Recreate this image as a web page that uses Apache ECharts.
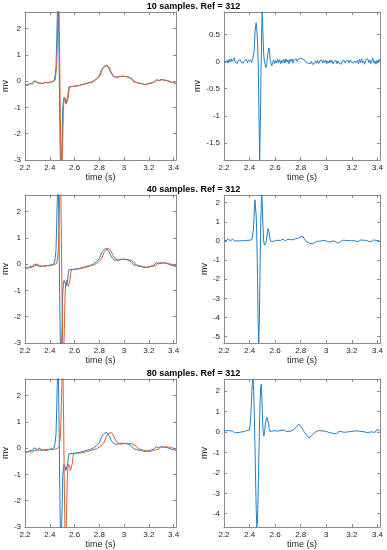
<!DOCTYPE html>
<html>
<head>
<meta charset="utf-8">
<script src="https://cdn.jsdelivr.net/npm/echarts@6/dist/echarts.min.js"></script>
<style>
html,body{margin:0;padding:0;background:#fff;}
#chart{width:387px;height:550px;}
</style>
</head>
<body>
<div id="chart"></div>
<script>
// ---------------- DATA ----------------
const titles = ["10 samples. Ref = 312", "40 samples. Ref = 312", "80 samples. Ref = 312"];
const xTicks = [2.2, 2.4, 2.6, 2.8, 3, 3.2, 3.4];
const xRange = [2.2, 3.42];
const leftYTicks = [-3, -2, -1, 0, 1, 2];
const leftYRange = [-3, 2.63];
const rightYTicks10 = [-1.5, -1, -0.5, 0, 0.5];
const rightYRange10 = [-1.81, 0.91];
const rightYTicks40 = [-5, -4, -3, -2, -1, 0, 1, 2];
const rightYRange40 = [-5.33, 2.4];
const rightYTicks80 = [-4, -3, -2, -1, 0, 1, 2];
const rightYRange80 = [-4.65, 2.6];

// reference ECG (blue, left panels) [time s, mV]
const ecgRef = [[2.200,-0.14],[2.210,-0.16],[2.220,-0.15],[2.230,-0.12],[2.240,-0.09],[2.250,-0.06],[2.258,-0.10],[2.266,-0.04],[2.275,0.01],[2.283,0.03],[2.290,-0.02],[2.300,-0.06],[2.310,-0.05],[2.320,-0.08],[2.330,-0.07],[2.340,-0.09],[2.350,-0.06],[2.360,-0.05],[2.370,-0.08],[2.380,-0.06],[2.390,-0.07],[2.400,-0.04],[2.410,-0.05],[2.420,-0.02],[2.430,0.00],[2.438,0.03],[2.445,0.10],[2.450,0.50],[2.455,1.30],[2.460,2.30],[2.465,3.00],[2.470,2.80],[2.475,1.00],[2.480,-1.20],[2.485,-2.90],[2.490,-3.60],[2.495,-3.20],[2.500,-2.20],[2.505,-1.10],[2.510,-0.75],[2.515,-0.62],[2.520,-0.63],[2.525,-0.72],[2.530,-0.85],[2.535,-0.90],[2.540,-0.86],[2.545,-0.60],[2.550,-0.35],[2.555,-0.22],[2.560,-0.18],[2.565,-0.20],[2.570,-0.17],[2.580,-0.20],[2.590,-0.16],[2.600,-0.19],[2.610,-0.15],[2.620,-0.18],[2.630,-0.14],[2.640,-0.16],[2.650,-0.12],[2.660,-0.13],[2.670,-0.09],[2.680,-0.11],[2.690,-0.06],[2.700,-0.08],[2.710,-0.04],[2.720,-0.05],[2.730,-0.02],[2.740,-0.03],[2.750,0.01],[2.760,0.03],[2.770,0.06],[2.780,0.10],[2.790,0.13],[2.800,0.20],[2.810,0.32],[2.820,0.45],[2.830,0.52],[2.840,0.56],[2.850,0.62],[2.860,0.60],[2.870,0.55],[2.880,0.46],[2.890,0.35],[2.900,0.27],[2.910,0.20],[2.920,0.16],[2.930,0.18],[2.940,0.15],[2.950,0.20],[2.960,0.17],[2.970,0.21],[2.980,0.19],[2.990,0.22],[3.000,0.18],[3.010,0.20],[3.020,0.17],[3.030,0.18],[3.040,0.14],[3.050,0.12],[3.060,0.08],[3.070,0.03],[3.080,-0.03],[3.090,-0.08],[3.100,-0.05],[3.110,-0.10],[3.120,-0.08],[3.130,-0.12],[3.140,-0.09],[3.150,-0.15],[3.160,-0.13],[3.170,-0.10],[3.180,-0.12],[3.190,-0.07],[3.200,-0.09],[3.210,-0.05],[3.220,-0.07],[3.230,-0.02],[3.240,-0.04],[3.250,0.00],[3.260,0.05],[3.270,-0.01],[3.280,0.02],[3.290,0.00],[3.300,0.06],[3.310,0.03],[3.320,0.04],[3.330,0.01],[3.340,0.03],[3.350,-0.02],[3.360,0.00],[3.370,-0.05],[3.380,-0.04],[3.390,-0.08],[3.400,-0.06],[3.410,-0.10],[3.420,-0.09]];

// delayed signals (orange)
const ecgDelay10 = [[2.200,-0.14],[2.205,-0.14],[2.215,-0.16],[2.225,-0.15],[2.235,-0.12],[2.245,-0.09],[2.255,-0.06],[2.263,-0.10],[2.271,-0.04],[2.280,0.01],[2.288,0.03],[2.295,-0.02],[2.305,-0.06],[2.315,-0.05],[2.325,-0.08],[2.335,-0.07],[2.345,-0.09],[2.355,-0.06],[2.365,-0.05],[2.375,-0.08],[2.385,-0.06],[2.395,-0.07],[2.405,-0.04],[2.415,-0.05],[2.425,-0.02],[2.435,0.00],[2.443,0.03],[2.450,0.10],[2.455,0.50],[2.460,1.30],[2.465,2.30],[2.470,3.00],[2.475,2.80],[2.480,1.00],[2.485,-1.20],[2.490,-2.90],[2.495,-3.60],[2.500,-3.20],[2.505,-2.20],[2.510,-1.10],[2.515,-0.75],[2.520,-0.62],[2.525,-0.63],[2.530,-0.72],[2.535,-0.85],[2.540,-0.90],[2.545,-0.86],[2.550,-0.60],[2.555,-0.35],[2.560,-0.22],[2.565,-0.18],[2.570,-0.20],[2.575,-0.17],[2.585,-0.20],[2.595,-0.16],[2.605,-0.19],[2.615,-0.15],[2.625,-0.18],[2.635,-0.14],[2.645,-0.16],[2.655,-0.12],[2.665,-0.13],[2.675,-0.09],[2.685,-0.11],[2.695,-0.06],[2.705,-0.08],[2.715,-0.04],[2.725,-0.05],[2.735,-0.02],[2.745,-0.03],[2.755,0.01],[2.765,0.03],[2.775,0.06],[2.785,0.10],[2.795,0.13],[2.805,0.20],[2.815,0.32],[2.825,0.45],[2.835,0.52],[2.845,0.56],[2.855,0.62],[2.865,0.60],[2.875,0.55],[2.885,0.46],[2.895,0.35],[2.905,0.27],[2.915,0.20],[2.925,0.16],[2.935,0.18],[2.945,0.15],[2.955,0.20],[2.965,0.17],[2.975,0.21],[2.985,0.19],[2.995,0.22],[3.005,0.18],[3.015,0.20],[3.025,0.17],[3.035,0.18],[3.045,0.14],[3.055,0.12],[3.065,0.08],[3.075,0.03],[3.085,-0.03],[3.095,-0.08],[3.105,-0.05],[3.115,-0.10],[3.125,-0.08],[3.135,-0.12],[3.145,-0.09],[3.155,-0.15],[3.165,-0.13],[3.175,-0.10],[3.185,-0.12],[3.195,-0.07],[3.205,-0.09],[3.215,-0.05],[3.225,-0.07],[3.235,-0.02],[3.245,-0.04],[3.255,0.00],[3.265,0.05],[3.275,-0.01],[3.285,0.02],[3.295,0.00],[3.305,0.06],[3.315,0.03],[3.325,0.04],[3.335,0.01],[3.345,0.03],[3.355,-0.02],[3.365,0.00],[3.375,-0.05],[3.385,-0.04],[3.395,-0.08],[3.405,-0.06],[3.415,-0.10],[3.420,-0.09]];

const ecgDelay40 = [[2.200,-0.15],[2.210,-0.14],[2.219,-0.14],[2.229,-0.16],[2.239,-0.15],[2.249,-0.12],[2.259,-0.09],[2.269,-0.06],[2.277,-0.10],[2.285,-0.04],[2.294,0.01],[2.302,0.03],[2.309,-0.02],[2.319,-0.06],[2.329,-0.05],[2.339,-0.08],[2.349,-0.07],[2.359,-0.09],[2.369,-0.06],[2.379,-0.05],[2.389,-0.08],[2.399,-0.06],[2.409,-0.07],[2.419,-0.04],[2.429,-0.05],[2.439,-0.02],[2.449,0.00],[2.457,0.03],[2.464,0.10],[2.469,0.50],[2.474,1.30],[2.479,2.30],[2.484,3.00],[2.489,2.80],[2.494,1.00],[2.499,-1.20],[2.504,-2.90],[2.509,-3.60],[2.514,-3.20],[2.519,-2.20],[2.524,-1.10],[2.529,-0.75],[2.534,-0.62],[2.539,-0.63],[2.544,-0.72],[2.549,-0.85],[2.554,-0.90],[2.559,-0.86],[2.564,-0.60],[2.569,-0.35],[2.574,-0.22],[2.579,-0.18],[2.584,-0.20],[2.589,-0.17],[2.599,-0.20],[2.609,-0.16],[2.619,-0.19],[2.629,-0.15],[2.639,-0.18],[2.649,-0.14],[2.659,-0.16],[2.669,-0.12],[2.679,-0.13],[2.689,-0.09],[2.699,-0.11],[2.709,-0.06],[2.719,-0.08],[2.729,-0.04],[2.739,-0.05],[2.749,-0.02],[2.759,-0.03],[2.769,0.01],[2.779,0.03],[2.789,0.06],[2.799,0.10],[2.809,0.13],[2.819,0.20],[2.829,0.32],[2.839,0.45],[2.849,0.52],[2.859,0.56],[2.869,0.62],[2.879,0.60],[2.889,0.55],[2.899,0.46],[2.909,0.35],[2.919,0.27],[2.929,0.20],[2.939,0.16],[2.949,0.18],[2.959,0.15],[2.969,0.20],[2.979,0.17],[2.989,0.21],[2.999,0.19],[3.009,0.22],[3.019,0.18],[3.029,0.20],[3.039,0.17],[3.049,0.18],[3.059,0.14],[3.069,0.12],[3.079,0.08],[3.089,0.03],[3.099,-0.03],[3.109,-0.08],[3.119,-0.05],[3.129,-0.10],[3.139,-0.08],[3.149,-0.12],[3.159,-0.09],[3.169,-0.15],[3.179,-0.13],[3.189,-0.10],[3.199,-0.12],[3.209,-0.07],[3.219,-0.09],[3.229,-0.05],[3.239,-0.07],[3.249,-0.02],[3.259,-0.04],[3.269,0.00],[3.279,0.05],[3.289,-0.01],[3.299,0.02],[3.309,0.00],[3.319,0.06],[3.329,0.03],[3.339,0.04],[3.349,0.01],[3.359,0.03],[3.369,-0.02],[3.379,0.00],[3.389,-0.05],[3.399,-0.04],[3.409,-0.08],[3.420,-0.06]];

const ecgDelay80 = [[2.200,-0.15],[2.210,-0.14],[2.220,-0.15],[2.230,-0.13],[2.237,-0.14],[2.247,-0.16],[2.257,-0.15],[2.267,-0.12],[2.277,-0.09],[2.287,-0.06],[2.295,-0.10],[2.303,-0.04],[2.312,0.01],[2.320,0.03],[2.327,-0.02],[2.337,-0.06],[2.347,-0.05],[2.357,-0.08],[2.367,-0.07],[2.377,-0.09],[2.387,-0.06],[2.397,-0.05],[2.407,-0.08],[2.417,-0.06],[2.427,-0.07],[2.437,-0.04],[2.447,-0.05],[2.457,-0.02],[2.467,0.00],[2.475,0.03],[2.482,0.10],[2.487,0.50],[2.492,1.30],[2.497,2.30],[2.502,3.00],[2.507,2.80],[2.512,1.00],[2.517,-1.20],[2.522,-2.90],[2.527,-3.60],[2.532,-3.20],[2.537,-2.20],[2.542,-1.10],[2.547,-0.75],[2.552,-0.62],[2.557,-0.63],[2.562,-0.72],[2.567,-0.85],[2.572,-0.90],[2.577,-0.86],[2.582,-0.60],[2.587,-0.35],[2.592,-0.22],[2.597,-0.18],[2.602,-0.20],[2.607,-0.17],[2.617,-0.20],[2.627,-0.16],[2.637,-0.19],[2.647,-0.15],[2.657,-0.18],[2.667,-0.14],[2.677,-0.16],[2.687,-0.12],[2.697,-0.13],[2.707,-0.09],[2.717,-0.11],[2.727,-0.06],[2.737,-0.08],[2.747,-0.04],[2.757,-0.05],[2.767,-0.02],[2.777,-0.03],[2.787,0.01],[2.797,0.03],[2.807,0.06],[2.817,0.10],[2.827,0.13],[2.837,0.20],[2.847,0.32],[2.857,0.45],[2.867,0.52],[2.877,0.56],[2.887,0.62],[2.897,0.60],[2.907,0.55],[2.917,0.46],[2.927,0.35],[2.937,0.27],[2.947,0.20],[2.957,0.16],[2.967,0.18],[2.977,0.15],[2.987,0.20],[2.997,0.17],[3.007,0.21],[3.017,0.19],[3.027,0.22],[3.037,0.18],[3.047,0.20],[3.057,0.17],[3.067,0.18],[3.077,0.14],[3.087,0.12],[3.097,0.08],[3.107,0.03],[3.117,-0.03],[3.127,-0.08],[3.137,-0.05],[3.147,-0.10],[3.157,-0.08],[3.167,-0.12],[3.177,-0.09],[3.187,-0.15],[3.197,-0.13],[3.207,-0.10],[3.217,-0.12],[3.227,-0.07],[3.237,-0.09],[3.247,-0.05],[3.257,-0.07],[3.267,-0.02],[3.277,-0.04],[3.287,0.00],[3.297,0.05],[3.307,-0.01],[3.317,0.02],[3.327,0.00],[3.337,0.06],[3.347,0.03],[3.357,0.04],[3.367,0.01],[3.377,0.03],[3.387,-0.02],[3.397,0.00],[3.407,-0.05],[3.420,-0.04]];

// difference signals (right panels)
const diff10 = [[2.200,0.00],[2.208,0.03],[2.216,-0.02],[2.224,0.02],[2.232,-0.03],[2.240,0.04],[2.248,-0.01],[2.256,0.05],[2.264,0.00],[2.272,0.02],[2.280,0.07],[2.288,-0.02],[2.296,0.01],[2.304,-0.03],[2.312,0.02],[2.320,-0.01],[2.328,0.03],[2.336,-0.02],[2.344,0.01],[2.352,-0.03],[2.360,0.02],[2.368,0.00],[2.376,0.04],[2.384,-0.02],[2.392,0.02],[2.400,-0.01],[2.408,0.03],[2.416,-0.02],[2.424,0.04],[2.430,0.02],[2.436,0.20],[2.443,0.55],[2.451,0.71],[2.457,0.58],[2.463,0.30],[2.468,-0.10],[2.473,-0.90],[2.479,-1.81],[2.485,-1.00],[2.490,-0.10],[2.495,0.60],[2.499,0.91],[2.504,0.55],[2.510,0.15],[2.516,0.00],[2.522,-0.06],[2.528,-0.11],[2.534,-0.05],[2.540,0.08],[2.546,0.20],[2.552,0.25],[2.557,0.15],[2.562,0.02],[2.568,-0.04],[2.574,-0.08],[2.580,-0.02],[2.588,0.03],[2.596,-0.04],[2.604,0.02],[2.612,-0.03],[2.620,0.04],[2.628,-0.02],[2.636,0.03],[2.644,-0.04],[2.652,0.02],[2.660,-0.02],[2.668,0.04],[2.676,-0.03],[2.684,0.05],[2.692,-0.01],[2.700,0.03],[2.708,-0.04],[2.716,0.04],[2.724,0.00],[2.732,0.05],[2.740,-0.03],[2.748,0.03],[2.756,0.01],[2.764,0.05],[2.772,0.00],[2.780,0.04],[2.788,0.02],[2.796,0.06],[2.804,0.03],[2.812,0.05],[2.820,0.08],[2.828,0.03],[2.836,0.04],[2.844,-0.02],[2.852,0.01],[2.860,-0.03],[2.868,-0.01],[2.876,-0.04],[2.884,0.00],[2.892,-0.05],[2.900,-0.02],[2.908,-0.04],[2.916,0.01],[2.924,-0.03],[2.932,0.02],[2.940,-0.04],[2.948,0.01],[2.956,-0.02],[2.964,0.03],[2.972,-0.03],[2.980,0.02],[2.988,-0.02],[2.996,0.03],[3.004,-0.04],[3.012,0.01],[3.020,-0.03],[3.028,0.03],[3.036,-0.02],[3.044,0.02],[3.052,-0.04],[3.060,0.00],[3.068,-0.03],[3.076,0.02],[3.084,-0.04],[3.092,0.01],[3.100,-0.03],[3.108,0.00],[3.116,-0.05],[3.124,0.01],[3.132,-0.02],[3.140,0.02],[3.148,-0.03],[3.156,0.01],[3.164,-0.02],[3.172,0.02],[3.180,-0.03],[3.188,0.03],[3.196,-0.01],[3.204,0.02],[3.212,-0.03],[3.220,0.01],[3.228,0.03],[3.236,-0.02],[3.244,0.02],[3.252,-0.04],[3.260,0.04],[3.268,-0.02],[3.276,0.05],[3.284,-0.03],[3.292,0.01],[3.300,-0.05],[3.308,0.03],[3.316,0.00],[3.324,0.05],[3.332,-0.02],[3.340,0.03],[3.348,-0.04],[3.356,0.02],[3.364,0.06],[3.372,-0.03],[3.380,0.01],[3.388,-0.05],[3.396,0.02],[3.404,-0.03],[3.412,0.04],[3.420,0.01]];

const diff40 = [[2.200,0.03],[2.210,0.05],[2.218,0.02],[2.226,0.08],[2.234,0.12],[2.242,0.03],[2.250,-0.01],[2.258,0.05],[2.266,0.10],[2.274,0.02],[2.282,0.00],[2.290,0.03],[2.300,0.01],[2.310,0.04],[2.320,0.00],[2.330,0.03],[2.340,0.02],[2.350,0.05],[2.360,0.01],[2.370,0.04],[2.380,0.03],[2.390,0.06],[2.400,0.04],[2.410,0.05],[2.418,0.06],[2.424,0.15],[2.430,0.60],[2.436,1.40],[2.442,2.15],[2.447,2.10],[2.452,1.30],[2.457,0.10],[2.462,-1.80],[2.467,-4.20],[2.472,-5.33],[2.477,-4.00],[2.482,-1.50],[2.487,0.70],[2.492,2.10],[2.496,2.40],[2.500,1.80],[2.505,0.70],[2.510,0.05],[2.516,-0.22],[2.522,-0.28],[2.528,-0.10],[2.534,0.15],[2.540,0.50],[2.546,0.65],[2.552,0.45],[2.558,0.15],[2.564,-0.02],[2.570,0.00],[2.578,0.05],[2.586,-0.02],[2.594,0.06],[2.602,0.02],[2.610,-0.03],[2.620,0.04],[2.630,0.08],[2.640,0.02],[2.650,0.05],[2.660,0.10],[2.670,0.04],[2.680,0.00],[2.690,0.06],[2.700,0.09],[2.710,0.03],[2.720,0.07],[2.730,0.10],[2.740,0.06],[2.750,0.08],[2.760,0.12],[2.770,0.09],[2.780,0.14],[2.790,0.18],[2.800,0.22],[2.810,0.28],[2.818,0.22],[2.826,0.12],[2.834,0.05],[2.842,0.02],[2.850,-0.06],[2.860,-0.10],[2.870,-0.12],[2.880,-0.18],[2.890,-0.16],[2.900,-0.10],[2.910,-0.08],[2.920,-0.05],[2.930,-0.02],[2.940,-0.06],[2.950,-0.01],[2.960,-0.04],[2.970,0.02],[2.980,-0.03],[2.990,0.03],[3.000,0.00],[3.010,-0.04],[3.020,0.01],[3.030,-0.05],[3.040,-0.02],[3.050,0.00],[3.060,-0.06],[3.070,-0.03],[3.080,-0.08],[3.090,-0.12],[3.100,-0.09],[3.110,-0.04],[3.120,-0.01],[3.130,0.04],[3.140,0.00],[3.150,0.03],[3.160,-0.02],[3.170,0.02],[3.180,0.05],[3.190,0.01],[3.200,0.06],[3.210,0.02],[3.220,0.05],[3.230,-0.01],[3.240,0.03],[3.250,-0.03],[3.260,0.02],[3.270,0.05],[3.280,0.00],[3.290,0.04],[3.300,-0.02],[3.310,0.03],[3.320,-0.05],[3.330,-0.02],[3.340,0.03],[3.350,-0.04],[3.360,0.02],[3.370,0.05],[3.380,-0.01],[3.390,0.03],[3.400,-0.02],[3.410,0.03],[3.420,-0.06]];

const diff80 = [[2.200,0.08],[2.210,0.10],[2.218,0.06],[2.226,0.11],[2.234,0.08],[2.242,0.10],[2.250,0.06],[2.258,0.09],[2.266,0.05],[2.274,0.02],[2.282,-0.03],[2.290,-0.06],[2.300,-0.03],[2.310,0.00],[2.320,-0.02],[2.330,0.02],[2.340,0.01],[2.350,0.04],[2.360,0.03],[2.370,0.06],[2.380,0.08],[2.390,0.09],[2.398,0.10],[2.404,0.30],[2.410,0.90],[2.416,1.70],[2.422,2.40],[2.427,2.60],[2.432,2.00],[2.437,0.90],[2.442,-0.60],[2.447,-2.30],[2.452,-3.80],[2.457,-4.65],[2.462,-4.30],[2.467,-3.00],[2.472,-1.40],[2.477,0.20],[2.482,1.40],[2.487,2.20],[2.492,2.35],[2.497,1.60],[2.502,0.50],[2.507,-0.05],[2.512,-0.20],[2.518,0.05],[2.524,0.40],[2.530,0.62],[2.536,0.72],[2.542,0.68],[2.548,0.45],[2.554,0.18],[2.560,0.02],[2.568,-0.02],[2.576,0.05],[2.584,0.02],[2.592,0.07],[2.600,0.03],[2.610,0.05],[2.620,0.01],[2.630,0.06],[2.640,0.04],[2.650,0.09],[2.660,0.05],[2.670,0.10],[2.680,0.06],[2.690,0.02],[2.700,0.08],[2.710,0.04],[2.720,0.09],[2.730,0.06],[2.740,0.12],[2.750,0.15],[2.760,0.20],[2.770,0.28],[2.780,0.38],[2.788,0.40],[2.796,0.33],[2.804,0.25],[2.812,0.18],[2.820,0.08],[2.830,-0.02],[2.840,-0.10],[2.850,-0.18],[2.858,-0.27],[2.866,-0.30],[2.874,-0.25],[2.882,-0.18],[2.890,-0.12],[2.900,-0.08],[2.910,-0.03],[2.920,0.02],[2.930,0.04],[2.940,0.08],[2.950,0.11],[2.960,0.06],[2.970,0.02],[2.980,0.05],[2.990,0.01],[3.000,0.03],[3.010,0.00],[3.020,-0.02],[3.030,0.01],[3.040,-0.04],[3.050,-0.02],[3.060,-0.08],[3.070,-0.15],[3.080,-0.08],[3.090,0.00],[3.100,0.03],[3.110,0.06],[3.120,0.02],[3.130,0.04],[3.140,-0.01],[3.150,0.03],[3.160,0.00],[3.170,0.05],[3.180,0.02],[3.190,0.06],[3.200,0.03],[3.210,0.01],[3.220,0.05],[3.230,0.02],[3.240,0.06],[3.250,0.10],[3.260,0.04],[3.270,-0.02],[3.280,0.03],[3.290,0.07],[3.300,0.01],[3.310,0.04],[3.320,-0.03],[3.330,-0.05],[3.340,0.00],[3.350,0.04],[3.360,0.01],[3.370,0.03],[3.380,-0.02],[3.390,0.05],[3.400,0.15],[3.410,0.06],[3.420,0.02]];

// ---------------- CHART ----------------
const BLUE = '#1f7fc9', ORANGE = '#de5f2c';
const AX = '#8a8a8a', TXT = '#262626';
const FONT = 'Liberation Sans, Arial, Helvetica, sans-serif';

const rowTops = [12, 195, 379];
const panelH = 148, panelW = 156;
const colLefts = [20, 224];

const panels = [
  {yTicks: leftYTicks, yRange: leftYRange, series: [[ecgRef, BLUE], [ecgDelay10, ORANGE]], nameGap: 11},
  {yTicks: rightYTicks10, yRange: rightYRange10, series: [[diff10, BLUE]], nameGap: 21},
  {yTicks: leftYTicks, yRange: leftYRange, series: [[ecgRef, BLUE], [ecgDelay40, ORANGE]], nameGap: 11},
  {yTicks: rightYTicks40, yRange: rightYRange40, series: [[diff40, BLUE]], nameGap: 11},
  {yTicks: leftYTicks, yRange: leftYRange, series: [[ecgRef, BLUE], [ecgDelay80, ORANGE]], nameGap: 11},
  {yTicks: rightYTicks80, yRange: rightYRange80, series: [[diff80, BLUE]], nameGap: 11}
];

const grid = [], xAxis = [], yAxis = [], series = [];
const fmt = v => String(v);

panels.forEach((p, i) => {
  const row = Math.floor(i / 2), col = i % 2;
  grid.push({left: colLefts[col], top: rowTops[row], width: panelW, height: panelH, containLabel: false});
  const tickStyle = {show: true, inside: true, length: 3, lineStyle: {color: AX, width: 1}};
  xAxis.push({
    type: 'value', gridIndex: i, position: 'bottom', min: xRange[0], max: xRange[1],
    splitLine: {show: false},
    axisLine: {show: true, onZero: false, lineStyle: {color: AX, width: 1}},
    axisTick: Object.assign({customValues: xTicks}, tickStyle),
    axisLabel: {customValues: xTicks, formatter: fmt, color: TXT, fontSize: 8, fontFamily: FONT, margin: 4},
    name: 'time (s)', nameLocation: 'middle', nameGap: 12,
    nameTextStyle: {color: TXT, fontSize: 9, fontFamily: FONT}
  });
  xAxis.push({
    type: 'value', gridIndex: i, position: 'top', min: xRange[0], max: xRange[1],
    splitLine: {show: false},
    axisLine: {show: true, onZero: false, lineStyle: {color: AX, width: 1}},
    axisTick: Object.assign({customValues: xTicks}, tickStyle),
    axisLabel: {show: false}
  });
  yAxis.push({
    type: 'value', gridIndex: i, position: 'left', min: p.yRange[0], max: p.yRange[1],
    splitLine: {show: false},
    axisLine: {show: true, onZero: false, lineStyle: {color: AX, width: 1}},
    axisTick: Object.assign({customValues: p.yTicks}, tickStyle),
    axisLabel: {customValues: p.yTicks, formatter: fmt, color: TXT, fontSize: 8, fontFamily: FONT, margin: 4},
    name: 'mv', nameLocation: 'middle', nameGap: p.nameGap, nameRotate: 90,
    nameTextStyle: {color: TXT, fontSize: 9, fontFamily: FONT}
  });
  yAxis.push({
    type: 'value', gridIndex: i, position: 'right', min: p.yRange[0], max: p.yRange[1],
    splitLine: {show: false},
    axisLine: {show: true, onZero: false, lineStyle: {color: AX, width: 1}},
    axisTick: Object.assign({customValues: p.yTicks}, tickStyle),
    axisLabel: {show: false}
  });
  p.series.forEach(([data, color]) => {
    series.push({
      type: 'line', xAxisIndex: 2 * i, yAxisIndex: 2 * i, data: data,
      showSymbol: false, symbol: 'none', clip: true, animation: false,
      lineStyle: {color: color, width: 1}
    });
  });
});

const titleTops = [2, 185, 369];
const title = titles.map((t, r) => ({
  text: t, left: 'center', top: titleTops[r], padding: 0,
  textStyle: {fontSize: 9, fontWeight: 'bold', color: '#000', fontFamily: FONT}
}));

const chart = echarts.init(document.getElementById('chart'), null, {renderer: 'canvas'});
chart.setOption({animation: false, backgroundColor: '#fff', title, grid, xAxis, yAxis, series});
</script>
</body>
</html>
